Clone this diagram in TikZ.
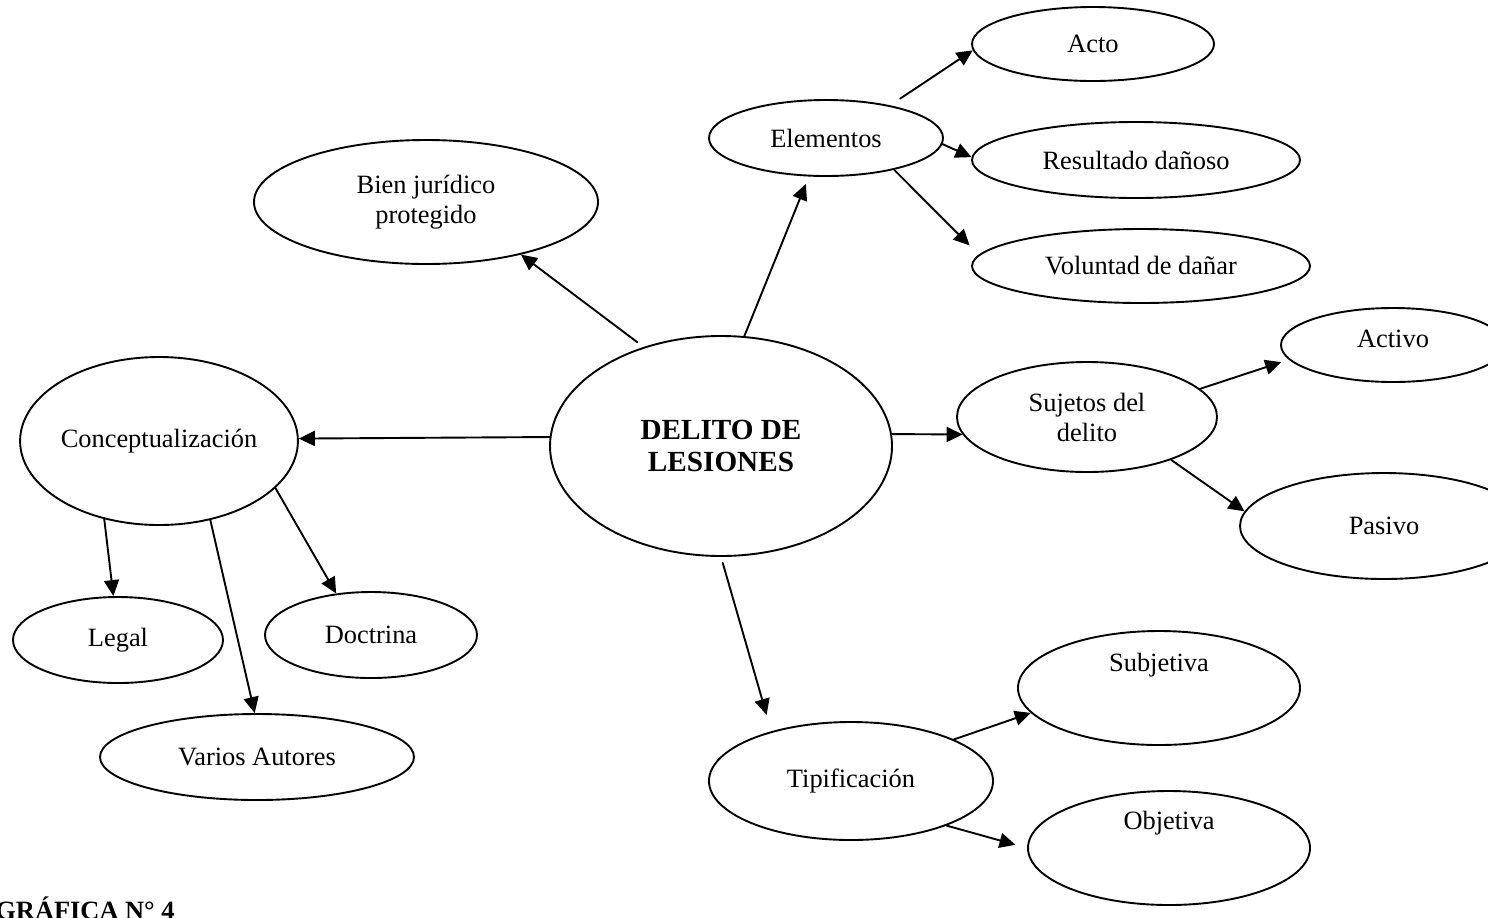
\documentclass[tikz,border=0pt]{standalone}
\usepackage{fontspec}
\setmainfont{Liberation Serif}
\usetikzlibrary{arrows.meta, shapes.geometric}

\begin{document}
\begin{tikzpicture}[x=0.5pt, y=-0.5pt, line cap=round, line join=round, >={Triangle[length=8pt,width=7.5pt]},
    oval/.style={ellipse, draw, line width=0.95pt, inner sep=0pt, align=center, font=\fontsize{13.2}{15}\selectfont},
    dims/.style 2 args={minimum width=#1pt, minimum height=#2pt},
    lift/.style={text height=9pt, text depth=#1},
    link/.style={->, line width=0.95pt}]
		\useasboundingbox (0,0) rectangle (1488,917);
		
		% centre
		\node[oval, dims={171}{110}, font=\fontsize{14.6}{16}\selectfont\bfseries] (delito) at (721,446) {DELITO DE\\LESIONES};
		
		% upper branches
		\node[oval, dims={172}{62}] (bien) at (426,202) {Bien jurídico\\protegido};
		\node[oval, dims={117}{38}] (elem) at (826,138) {Elementos};
		\node[oval, dims={121}{37}] (acto) at (1093,44) {Acto};
		\node[oval, dims={164}{38}] (res) at (1136,160) {Resultado dañoso};
		\node[oval, dims={169}{37}] (vol) at (1141,266) {Voluntad de dañar};
		
		% right branch
		\node[oval, dims={130}{55}] (sujetos) at (1087,417) {Sujetos del\\delito};
		\node[oval, dims={112}{37}, lift=7pt] (activo) at (1393,345) {Activo};
		\node[oval, dims={144}{53}] (pasivo) at (1384,526) {Pasivo};
		
		% left branch
		\node[oval, dims={136}{84}] (concep) at (159,441) {Conceptualización};
		\node[oval, dims={105}{43}] (legal) at (118,640) {Legal};
		\node[oval, dims={106}{43}] (doctrina) at (371,635) {Doctrina};
		\node[oval, dims={157}{43}] (varios) at (257,757) {Varios Autores};
		
		% lower branch
		\node[oval, dims={142}{59}] (tipif) at (851,781) {Tipificación};
		\node[oval, dims={141}{57}, lift=26pt] (subj) at (1159,688) {Subjetiva};
		\node[oval, dims={141}{57}, lift=28pt] (obj) at (1169,848) {Objetiva};
		
		\node[anchor=base west, inner sep=0pt, font=\fontsize{13.2}{15}\selectfont\bfseries] (grafica) at (-5,919) {GRÁFICA N° 4};
		
		% connectors
		\draw[link, shorten <=4pt] (delito.128) -- (bien.-29);
		\draw[link, shorten >=4pt] (delito.78) -- (elem.246);
		\draw[link] (delito.177) -- (concep.1);
		\draw[link] (delito.4) -- (sujetos.188);
		\draw[link, shorten <=3pt, shorten >=8.5pt] (delito.270) -- (tipif.148);
		\draw[link, shorten <=6pt] (elem.27) -- (acto.183);
		\draw[link] (elem.-3) -- (res.179);
		\draw[link, shorten >=6.5pt] (elem.-25) -- (vol.176);
		\draw[link, shorten >=4pt] (sujetos.14) -- (activo.188);
		\draw[link] (sujetos.-27) -- (pasivo.174);
		\draw[link] (concep.235) -- (legal.96);
		\draw[link] (concep.-57) -- (varios.93);
		\draw[link] (concep.-22) -- (doctrina.130);
		\draw[link] (tipif.22) -- (subj.191);
		\draw[link, shorten >=6pt] (tipif.-25) -- (obj.180);
\end{tikzpicture}
\end{document}
